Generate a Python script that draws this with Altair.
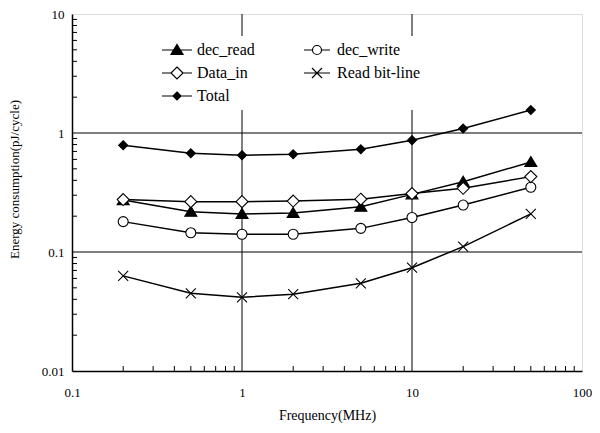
import altair as alt
import pandas as pd

# ---- data ----
freq = [0.2, 0.5, 1, 2, 5, 10, 20, 50]
dec_read = [0.273, 0.218, 0.209, 0.213, 0.240, 0.305, 0.390, 0.570]
dec_write = [0.180, 0.145, 0.141, 0.141, 0.158, 0.195, 0.248, 0.350]
data_in = [0.276, 0.265, 0.265, 0.268, 0.278, 0.310, 0.343, 0.430]
read_bitline = [0.063, 0.045, 0.0416, 0.0442, 0.0546, 0.0738, 0.111, 0.209]
total = [0.79, 0.675, 0.65, 0.662, 0.73, 0.87, 1.09, 1.56]

series_names = ["dec_read", "dec_write", "Data_in", "Read bit-line", "Total"]
series_values = [dec_read, dec_write, data_in, read_bitline, total]
series_fill = ["black", "white", "white", "white", "black"]
series_stroke = ["black", "black", "black", "black", "black"]

x_ticks = [0.1, 1, 10, 100]
y_ticks = [0.01, 0.1, 1, 10]
x_grid = [1, 10]
y_grid = [0.1, 1]
x_minor = [m * d for d in [0.1, 1, 10] for m in range(2, 10)]
y_minor = [m * d for d in [0.01, 0.1, 1] for m in range(2, 10)]

# marker paths (plot) and legend paths (marker with line)
marker_paths = [
    "M0,-1.1L1.2,0.9L-1.2,0.9Z",
    "M1,0A1,1,0,1,1,-1,0A1,1,0,1,1,1,0Z",
    "M0,-1.2L1.2,0L0,1.2L-1.2,0Z",
    "M-1,-1L1,1M-1,1L1,-1",
    "M0,-0.9L0.9,0L0,0.9L-0.9,0Z",
]
legend_paths = [
    "M-3,0H3M0,-1.1L1.2,0.9L-1.2,0.9Z",
    "M-2.6,0H-0.9M0.9,0H2.6M0.9,0A0.9,0.9,0,1,1,-0.9,0A0.9,0.9,0,1,1,0.9,0Z",
    "M-3,0H-1.2M1.2,0H3M0,-1.2L1.2,0L0,1.2L-1.2,0Z",
    "M-2.6,0H2.6M-1,-1L1,1M-1,1L1,-1",
    "M-3,0H3M0,-0.8L0.8,0L0,0.8L-0.8,0Z",
]

rows = []
for name, vals in zip(series_names, series_values):
    for f, v in zip(freq, vals):
        rows.append({"freq": f, "value": v, "series": name})
df = pd.DataFrame(rows)

FONT = "Liberation Serif, Times New Roman, Times, serif"
W, H = 510, 357

xscale = alt.Scale(type="log", domain=[0.1, 100], nice=False)
yscale = alt.Scale(type="log", domain=[0.01, 10], nice=False)

xaxis = alt.Axis(values=x_ticks, format="~g", grid=False, ticks=False,
                 domainColor="black", domainWidth=1.5, labelFlush=False,
                 labelFont=FONT, labelFontSize=13, labelColor="black",
                 labelPadding=15, title="Frequency(MHz)", titleFont=FONT,
                 titleFontSize=14, titleFontWeight="normal", titleColor="black",
                 titlePadding=9)
yaxis = alt.Axis(values=y_ticks, format="~g", grid=False, ticks=False,
                 domainColor="black", domainWidth=1.5, labelFlush=False,
                 labelFont=FONT, labelFontSize=13, labelColor="black",
                 labelPadding=8, title="Energy consumption(pJ/cycle)",
                 titleFont=FONT, titleFontSize=13, titleFontWeight="normal",
                 titleColor="black", titlePadding=20, titleY=165)

vgrid = alt.Chart(pd.DataFrame({"g": x_grid})).mark_rule(
    color="black", strokeWidth=1).encode(x=alt.X("g:Q", scale=xscale, axis=xaxis))
hgrid = alt.Chart(pd.DataFrame({"g": y_grid})).mark_rule(
    color="black", strokeWidth=1).encode(y=alt.Y("g:Q", scale=yscale, axis=yaxis))

xminor = alt.Chart(pd.DataFrame({"t": x_minor})).mark_rule(
    color="black", strokeWidth=1).encode(
    x=alt.X("t:Q", scale=xscale), y=alt.value(H), y2=alt.value(H - 5))
yminor = alt.Chart(pd.DataFrame({"t": y_minor})).mark_rule(
    color="black", strokeWidth=1).encode(
    y=alt.Y("t:Q", scale=yscale), x=alt.value(0), x2=alt.value(5))

lines = alt.Chart(df).mark_line(color="black", strokeWidth=1.5).encode(
    x=alt.X("freq:Q", scale=xscale),
    y=alt.Y("value:Q", scale=yscale),
    detail="series:N",
)

points = alt.Chart(df).mark_point(opacity=1, stroke="black", strokeWidth=1.1).encode(
    x=alt.X("freq:Q", scale=xscale),
    y=alt.Y("value:Q", scale=yscale),
    shape=alt.Shape("series:N", scale=alt.Scale(domain=series_names, range=marker_paths), legend=None),
    fill=alt.Fill("series:N", scale=alt.Scale(domain=series_names, range=series_fill), legend=None),
    size=alt.value(100),
)

legend = alt.Legend(orient="none", legendX=91, legendY=22, columns=2, direction="horizontal",
                    title=None,
                    labelFont=FONT, labelFontSize=16, labelColor="black",
                    symbolSize=100, labelOffset=12, columnPadding=46, rowPadding=6,
                    fillColor="white", padding=6, symbolStrokeColor="black",
                    symbolStrokeWidth=1.2, symbolOpacity=1)

legend_layer = alt.Chart(df).transform_filter("false").mark_point(
    opacity=1, strokeWidth=1.2).encode(
    shape=alt.Shape("series:N", scale=alt.Scale(domain=series_names, range=legend_paths), legend=legend),
    fill=alt.Fill("series:N", scale=alt.Scale(domain=series_names, range=series_fill), legend=legend),
    stroke=alt.Stroke("series:N", scale=alt.Scale(domain=series_names, range=series_stroke), legend=legend),
)

chart = alt.layer(vgrid, hgrid, xminor, yminor, lines, points, legend_layer).resolve_scale(
    shape="independent", fill="independent", stroke="independent"
).properties(
    width=W, height=H,
    autosize=alt.AutoSizeParams(type="none"),
    padding={"left": 64, "top": 6, "right": 10, "bottom": 54},
).configure_view(stroke="#808080", strokeWidth=1.5).configure(background="white")

chart.save("out.html", embed_options={"renderer": "svg", "actions": False})
